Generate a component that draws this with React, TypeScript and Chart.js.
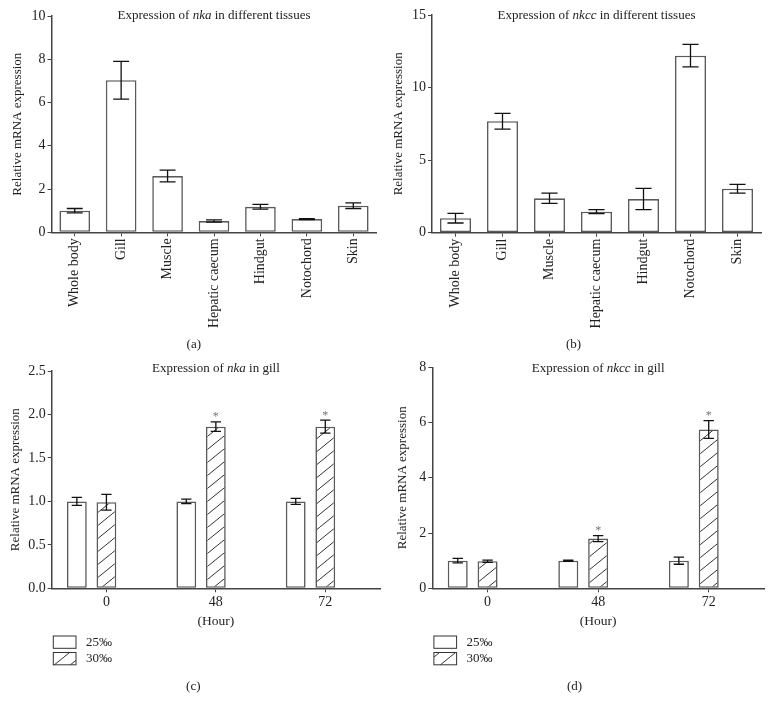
import React, { useEffect, useRef } from 'react';
import { Chart, registerables } from 'chart.js';
Chart.register(...registerables);

const FONT = '"Liberation Serif", "Times New Roman", serif';
const TEXT = '#222';
const AXIS = '#444';
const BAR_EDGE = '#5a5a5a';

// ---- data ----
const tissueLabels = ['Whole body', 'Gill', 'Muscle', 'Hepatic caecum', 'Hindgut', 'Notochord', 'Skin'];
const nkaTissueMean = [1.0, 7.03, 2.6, 0.52, 1.18, 0.61, 1.23];
const nkaTissueErr = [0.1, 0.87, 0.27, 0.05, 0.11, 0.02, 0.13];
const nkccTissueMean = [1.0, 7.68, 2.37, 1.45, 2.32, 12.2, 3.03];
const nkccTissueErr = [0.33, 0.54, 0.35, 0.14, 0.73, 0.78, 0.3];

const hourLabels = ['0', '48', '72'];
const salinityLabels = ['25‰', '30‰'];
const nkaGill25 = [1.0, 1.0, 1.0];
const nkaGill25Err = [0.045, 0.025, 0.035];
const nkaGill30 = [0.99, 1.86, 1.86];
const nkaGill30Err = [0.09, 0.055, 0.075];
const nkccGill25 = [1.0, 1.0, 1.0];
const nkccGill25Err = [0.08, 0.02, 0.13];
const nkccGill30 = [0.98, 1.8, 5.75];
const nkccGill30Err = [0.04, 0.11, 0.32];
const gill30Significant = [false, true, true];

const yTitleText = 'Relative mRNA expression';
const hourTitle = '(Hour)';

type Series = { label?: string; data: (number | null)[]; err?: number[]; sig?: boolean[]; hatch?: boolean };
type Spec = {
  left: number; top: number; width: number; height: number;
  title: [string, string, string];
  titleDy: number;
  labels: string[];
  series: Series[];
  yMax: number; yStep: number; yDec: number;
  yAxisWidth: number; yTitlePad: number;
  padding: { top: number; right: number; bottom: number; left: number };
  xHeight: number;
  rotated: boolean;
  xTitle?: string;
  catPct: number; barPct: number;
  legend: boolean;
};

function makeHatch(): CanvasPattern | string {
  const c = document.createElement('canvas');
  c.width = 16; c.height = 13;
  const g = c.getContext('2d');
  if (!g) return '#ccc';
  g.fillStyle = '#fff';
  g.fillRect(0, 0, 16, 13);
  g.strokeStyle = '#333';
  g.lineWidth = 1;
  g.beginPath();
  for (const dx of [-16, 0, 16]) { g.moveTo(dx, 13); g.lineTo(dx + 16, 0); }
  g.stroke();
  return g.createPattern(c, 'repeat') || '#ccc';
}

function Panel({ spec }: { spec: Spec }) {
  const ref = useRef<HTMLCanvasElement | null>(null);
  useEffect(() => {
    if (!ref.current) return;
    const hatch = makeHatch();
    const datasets = spec.series.map((s) => ({
      label: s.label,
      data: s.data,
      backgroundColor: s.hatch ? hatch : '#fff',
      borderColor: BAR_EDGE,
      borderWidth: 1.6,
      borderSkipped: false,
      categoryPercentage: spec.catPct,
      barPercentage: spec.barPct,
    }));
    const deco = {
      id: 'deco',
      afterDatasetsDraw(chart: any) {
        const ctx = chart.ctx;
        const ys = chart.scales.y;
        spec.series.forEach((s, di) => {
          if (!s.err) return;
          const meta = chart.getDatasetMeta(di);
          meta.data.forEach((el: any, i: number) => {
            const v = s.data[i];
            if (v == null) return;
            const e = s.err![i];
            const x = el.x;
            const w = el.width * 0.52;
            const t = ys.getPixelForValue(v + e);
            const b = ys.getPixelForValue(v - e);
            ctx.save();
            ctx.strokeStyle = '#111';
            ctx.lineWidth = 1.3;
            ctx.beginPath();
            ctx.moveTo(x, t); ctx.lineTo(x, b);
            ctx.moveTo(x - w / 2, t); ctx.lineTo(x + w / 2, t);
            ctx.moveTo(x - w / 2, b); ctx.lineTo(x + w / 2, b);
            ctx.stroke();
            if (s.sig && s.sig[i]) {
              ctx.fillStyle = '#777';
              ctx.font = `12px ${FONT}`;
              ctx.textAlign = 'center';
              ctx.textBaseline = 'alphabetic';
              ctx.fillText('*', x, t - 1.5);
            }
            ctx.restore();
          });
        });
      },
      afterDraw(chart: any) {
        const ctx = chart.ctx;
        const { left, right, top, bottom } = chart.chartArea;
        // title with italic gene name
        ctx.save();
        const normal = `13px ${FONT}`;
        const ital = `italic 13px ${FONT}`;
        const [a, b, c] = spec.title;
        ctx.font = normal; const wa = ctx.measureText(a).width; const wc = ctx.measureText(c).width;
        ctx.font = ital; const wb = ctx.measureText(b).width;
        let x = (left + right) / 2 - (wa + wb + wc) / 2;
        const y = top + spec.titleDy;
        ctx.fillStyle = TEXT;
        ctx.textBaseline = 'alphabetic';
        ctx.textAlign = 'left';
        ctx.font = normal; ctx.fillText(a, x, y); x += wa;
        ctx.font = ital; ctx.fillText(b, x, y); x += wb;
        ctx.font = normal; ctx.fillText(c, x, y);
        // legend
        if (spec.legend) {
          let k = 0;
          chart.data.datasets.forEach((ds: any) => {
            if (!ds.label) return;
            const bx = left + 1.6;
            const by = bottom + 47.7 + k * 16.5;
            ctx.fillStyle = ds.backgroundColor;
            ctx.fillRect(bx, by, 22.7, 12.3);
            ctx.strokeStyle = '#333';
            ctx.lineWidth = 1;
            ctx.strokeRect(bx, by, 22.7, 12.3);
            ctx.fillStyle = TEXT;
            ctx.font = `13px ${FONT}`;
            ctx.textBaseline = 'middle';
            ctx.fillText(ds.label, bx + 32.7, by + 6.5);
            k++;
          });
        }
        ctx.restore();
      },
    };
    const chart = new Chart(ref.current, {
      type: 'bar',
      data: { labels: spec.labels, datasets: datasets as any },
      options: {
        animation: false,
        responsive: false,
        devicePixelRatio: 1,
        layout: { padding: spec.padding },
        plugins: { legend: { display: false }, tooltip: { enabled: false }, title: { display: false } },
        scales: {
          x: {
            type: 'category',
            offset: true,
            grid: { display: true, offset: false, drawOnChartArea: false, drawTicks: true, tickLength: 4, color: AXIS, lineWidth: 1 },
            border: { display: true, color: AXIS, width: 1.5 },
            ticks: {
              color: TEXT,
              font: { family: FONT, size: 14 },
              padding: 2,
              minRotation: spec.rotated ? 90 : 0,
              maxRotation: spec.rotated ? 90 : 0,
              autoSkip: false,
            },
            title: spec.xTitle
              ? { display: true, text: spec.xTitle, color: TEXT, font: { family: FONT, size: 13.5 }, padding: { top: 0, bottom: 0 } }
              : { display: false },
            afterFit: (s: any) => { s.height = spec.xHeight; },
          },
          y: {
            min: 0,
            max: spec.yMax,
            grid: { drawOnChartArea: false, drawTicks: true, tickLength: 4, color: AXIS, lineWidth: 1 },
            border: { display: true, color: AXIS, width: 1.5 },
            ticks: {
              stepSize: spec.yStep,
              color: TEXT,
              font: { family: FONT, size: 14 },
              padding: 2,
              callback: (v: any) => Number(v).toFixed(spec.yDec),
            },
            title: { display: true, text: yTitleText, color: TEXT, font: { family: FONT, size: 13 }, padding: { top: spec.yTitlePad, bottom: 0 } },
            afterFit: (s: any) => { s.width = spec.yAxisWidth; },
          },
        },
      },
      plugins: [deco as any],
    });
    return () => chart.destroy();
  }, [spec]);
  return (
    <canvas
      ref={ref}
      width={spec.width}
      height={spec.height}
      style={{ position: 'absolute', left: spec.left, top: spec.top, width: spec.width, height: spec.height }}
    />
  );
}

const specA: Spec = {
  left: 0, top: 0, width: 386, height: 338,
  title: ['Expression of ', 'nka', ' in different tissues'], titleDy: 3,
  labels: tissueLabels,
  series: [{ data: nkaTissueMean, err: nkaTissueErr }],
  yMax: 10, yStep: 2, yDec: 0,
  yAxisWidth: 51.5, yTitlePad: 9.4,
  padding: { top: 16, right: 9.5, bottom: 0, left: 0 },
  xHeight: 105.7, rotated: true, catPct: 1, barPct: 0.66, legend: false,
};
const specB: Spec = {
  left: 386, top: 0, width: 387, height: 338,
  title: ['Expression of ', 'nkcc', ' in different tissues'], titleDy: 3.5,
  labels: tissueLabels,
  series: [{ data: nkccTissueMean, err: nkccTissueErr }],
  yMax: 15, yStep: 5, yDec: 0,
  yAxisWidth: 46, yTitlePad: 4.5,
  padding: { top: 15, right: 12, bottom: 0, left: 0 },
  xHeight: 105.3, rotated: true, catPct: 1, barPct: 0.66, legend: false,
};
const specC: Spec = {
  left: 0, top: 345, width: 386, height: 366,
  title: ['Expression of ', 'nka', ' in gill'], titleDy: 0.5,
  labels: hourLabels,
  series: [
    { label: salinityLabels[0], data: nkaGill25, err: nkaGill25Err },
    { label: salinityLabels[1], data: nkaGill30, err: nkaGill30Err, sig: gill30Significant, hatch: true },
    { data: [null, null, null] },
  ],
  yMax: 2.5, yStep: 0.5, yDec: 1,
  yAxisWidth: 51.7, yTitlePad: 7.5,
  padding: { top: 26, right: 6, bottom: 81.7, left: 0 },
  xHeight: 41, rotated: false, xTitle: hourTitle, catPct: 0.81, barPct: 0.67, legend: true,
};
const specD: Spec = {
  left: 386, top: 345, width: 387, height: 366,
  title: ['Expression of ', 'nkcc', ' in gill'], titleDy: 4.5,
  labels: hourLabels,
  series: [
    { label: salinityLabels[0], data: nkccGill25, err: nkccGill25Err },
    { label: salinityLabels[1], data: nkccGill30, err: nkccGill30Err, sig: gill30Significant, hatch: true },
    { data: [null, null, null] },
  ],
  yMax: 8, yStep: 2, yDec: 0,
  yAxisWidth: 46.3, yTitlePad: 9,
  padding: { top: 22.3, right: 9, bottom: 81.7, left: 0 },
  xHeight: 41, rotated: false, xTitle: hourTitle, catPct: 0.81, barPct: 0.67, legend: true,
};

const panelLabels = [
  { text: '(a)', x: 193.8, y: 343 },
  { text: '(b)', x: 573.5, y: 343 },
  { text: '(c)', x: 193.3, y: 685 },
  { text: '(d)', x: 574.5, y: 685 },
];

export default function App() {
  return (
    <div style={{ position: 'absolute', left: 0, top: 0, width: 773, height: 711, background: '#fff', overflow: 'hidden' }}>
      <Panel spec={specA} />
      <Panel spec={specB} />
      <Panel spec={specC} />
      <Panel spec={specD} />
      {panelLabels.map((p) => (
        <div
          key={p.text}
          style={{
            position: 'absolute', left: p.x, top: p.y, transform: 'translate(-50%, -50%)',
            font: `13px ${FONT}`, color: TEXT, lineHeight: '15px', whiteSpace: 'nowrap',
          }}
        >
          {p.text}
        </div>
      ))}
    </div>
  );
}
